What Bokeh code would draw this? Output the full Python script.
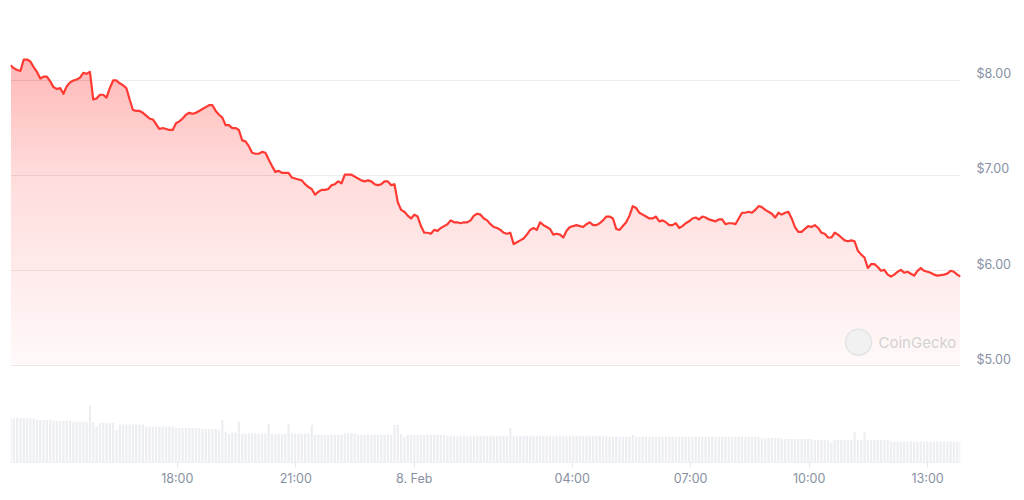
import numpy as np
import pandas as pd
from bokeh.plotting import figure
from bokeh.models import Range1d, FixedTicker, Label
from bokeh.embed import file_html
from bokeh.resources import INLINE

# ---------------- data ----------------
price = [
    8.16, 8.13, 8.11, 8.10, 8.22, 8.22, 8.20, 8.14, 8.09, 8.02,
    8.04, 8.04, 7.99, 7.93, 7.91, 7.92, 7.86, 7.94, 7.98, 8.00,
    8.01, 8.03, 8.08, 8.07, 8.09, 7.80, 7.81, 7.85, 7.85, 7.82,
    7.92, 8.00, 8.00, 7.97, 7.95, 7.92, 7.80, 7.69, 7.68, 7.68,
    7.66, 7.63, 7.60, 7.59, 7.54, 7.49, 7.50, 7.49, 7.48, 7.48,
    7.55, 7.57, 7.60, 7.64, 7.66, 7.65, 7.66, 7.68, 7.70, 7.72,
    7.74, 7.74, 7.68, 7.64, 7.61, 7.53, 7.53, 7.50, 7.50, 7.48,
    7.37, 7.36, 7.31, 7.24, 7.23, 7.23, 7.25, 7.24, 7.17, 7.10,
    7.04, 7.05, 7.03, 7.03, 7.03, 6.98, 6.97, 6.96, 6.95, 6.91,
    6.88, 6.86, 6.80, 6.83, 6.85, 6.85, 6.86, 6.90, 6.91, 6.94,
    6.92, 7.01, 7.01, 7.01, 6.99, 6.97, 6.95, 6.94, 6.95, 6.94,
    6.91, 6.90, 6.91, 6.94, 6.94, 6.90, 6.91, 6.72, 6.64, 6.62,
    6.58, 6.55, 6.59, 6.57, 6.47, 6.40, 6.40, 6.39, 6.43, 6.42,
    6.45, 6.47, 6.49, 6.53, 6.51, 6.51, 6.50, 6.51, 6.51, 6.53,
    6.58, 6.60, 6.59, 6.55, 6.53, 6.49, 6.46, 6.45, 6.43, 6.40,
    6.39, 6.40, 6.28, 6.30, 6.32, 6.34, 6.38, 6.43, 6.45, 6.43,
    6.51, 6.48, 6.46, 6.44, 6.38, 6.39, 6.38, 6.35, 6.42, 6.46,
    6.47, 6.48, 6.47, 6.46, 6.49, 6.51, 6.48, 6.48, 6.50, 6.53,
    6.57, 6.57, 6.55, 6.44, 6.43, 6.47, 6.51, 6.58, 6.68, 6.66,
    6.61, 6.59, 6.57, 6.55, 6.55, 6.57, 6.52, 6.53, 6.51, 6.48,
    6.48, 6.50, 6.45, 6.47, 6.50, 6.52, 6.55, 6.56, 6.54, 6.57,
    6.56, 6.54, 6.53, 6.52, 6.54, 6.54, 6.49, 6.50, 6.50, 6.49,
    6.55, 6.61, 6.61, 6.62, 6.61, 6.64, 6.68, 6.67, 6.64, 6.62,
    6.60, 6.56, 6.61, 6.59, 6.61, 6.62, 6.55, 6.46, 6.41, 6.41,
    6.44, 6.47, 6.46, 6.48, 6.45, 6.40, 6.39, 6.35, 6.35, 6.40,
    6.38, 6.35, 6.32, 6.31, 6.32, 6.31, 6.21, 6.17, 6.14, 6.03,
    6.07, 6.07, 6.04, 6.00, 6.01, 5.96, 5.94, 5.96, 5.99, 6.01,
    5.98, 5.99, 5.97, 5.95, 6.00, 6.03, 6.00, 5.99, 5.98, 5.96,
    5.95, 5.955, 5.96, 5.97, 6.00, 5.99, 5.96, 5.94,
]

volume = [
    44.4, 44.2, 44.5, 44.3, 44.4, 44.1, 44.3, 44.0,
    42.7, 42.7, 42.6, 42.7, 42.7,
    41.7, 41.7, 41.6, 41.7, 41.7, 41.7,
    40.7, 40.7, 40.7, 40.6, 40.7,
    56.7, 40.3, 35.7,
    39.4, 39.4, 39.4, 39.3, 39.4,
    32.5,
    38.0, 38.0, 38.1, 38.0, 38.0, 37.9, 38.0, 38.0,
    36.0, 36.0, 36.1, 36.0, 35.9, 36.0, 36.0, 36.0, 36.0,
    34.5, 34.5, 34.4, 34.5, 34.5, 34.5, 34.6, 34.5,
    33.5, 33.5, 33.5, 33.4, 33.5,
    32.5, 42.7, 31.0, 28.5, 30.0, 30.0, 40.7,
    29.0, 29.0, 29.0, 29.0, 28.9, 29.0, 29.0, 29.0,
    38.4,
    28.5, 28.5, 28.5, 28.5, 28.5,
    38.4,
    29.0, 29.0, 29.0, 29.0, 29.0, 29.0,
    37.4,
    27.7, 27.7, 27.7, 27.7, 27.7, 27.7, 27.7, 27.7, 27.7,
    29.0, 29.0, 29.0, 29.0,
    27.7, 27.7, 27.7, 27.7, 27.7, 27.7, 27.7, 27.7, 27.7, 27.7, 27.7,
    37.4, 37.4, 28.5, 25.7,
    27.7, 27.7, 27.7, 27.7, 27.7, 27.7, 27.7, 27.7, 27.7, 27.7, 27.7, 27.7,
    26.7, 26.7, 26.7, 26.7, 26.7, 26.7, 26.7, 26.7, 26.7, 26.7,
    26.7, 26.7, 26.7, 26.7, 26.7, 26.7, 26.7, 26.7, 26.7,
    34.4,
    26.7, 26.7, 26.7, 26.7, 26.7, 26.7, 26.7, 26.7, 26.7, 26.7,
    26.7, 26.7, 26.7, 26.7, 26.7, 26.7, 26.7, 26.7, 26.7, 26.7,
    26.7, 26.7, 26.7, 26.7, 26.7, 26.7, 26.7, 26.7, 26.7,
    25.7, 25.7, 25.7, 25.7, 25.7, 25.7, 25.7,
    27.7,
    25.7, 25.7, 25.7, 25.7, 25.7, 25.7, 25.7, 25.7, 25.7, 25.7,
    25.7, 25.7, 25.7, 25.7, 25.7, 25.7, 25.7, 25.7, 25.7, 25.7,
    25.7, 25.7, 25.7, 25.7, 25.7, 25.7, 25.7, 25.7, 25.7, 25.7,
    25.7, 25.7, 25.7, 25.7, 25.7, 25.7, 25.7, 25.7,
    24.4, 24.4, 24.4, 24.4, 24.4, 24.4,
    23.4, 23.4, 23.4, 23.4, 23.4, 23.4, 23.4, 23.4, 23.4, 23.4,
    22.4, 22.4, 22.4, 22.4, 22.0, 20.0,
    22.4, 22.4, 22.4, 22.4, 22.4, 22.4,
    30.0, 22.4, 22.4, 30.0,
    22.4, 22.4, 22.4, 22.4, 22.4, 22.4, 22.4,
    21.0, 21.0, 21.0, 21.0, 21.0, 21.0, 21.0, 21.0, 21.0, 21.0,
    21.0, 21.0, 21.0, 21.0, 21.0, 21.0, 21.0, 21.0, 21.0, 21.0, 21.0,
    20.0,
]

t_start = "2024-02-07 13:46:34"
t_end = "2024-02-08 13:50:00"

tick_times = ["2024-02-07 18:00", "2024-02-07 21:00", "2024-02-08 00:00",
              "2024-02-08 04:00", "2024-02-08 07:00", "2024-02-08 10:00",
              "2024-02-08 13:00"]
tick_labels = ["18:00", "21:00", "8. Feb", "04:00", "07:00", "10:00", "13:00"]

price_ticks = [5, 6, 7, 8]
price_tick_labels = ["$5.00", "$6.00", "$7.00", "$8.00"]

watermark = "CoinGecko"

# ---------------- styling ----------------
RED = "#ff3a33"
VOL = "#eceef2"
GRID = "#ededed"
LABEL = "#8690a3"
FONT = "Inter"

times = pd.date_range(pd.Timestamp(t_start), pd.Timestamp(t_end), periods=len(price))
price_arr = np.array(price)
step_ms = (times[1] - times[0]).total_seconds() * 1000.0

p = figure(width=1016, height=492, x_axis_type="datetime", y_axis_location="right",
           x_range=Range1d(pd.Timestamp(t_start).to_pydatetime(), pd.Timestamp(t_end).to_pydatetime()),
           y_range=Range1d(3.986, 8.525),
           output_backend="svg", toolbar_location=None,
           min_border_left=10, min_border_top=30, min_border_bottom=30, min_border_right=56)
p.outline_line_color = None
p.background_fill_color = "white"
p.border_fill_color = "white"

p.extra_y_ranges = {"vol": Range1d(0, max(volume) * 432.0 / 56.7)}

# gradient area fill built from nested translucent layers
levels = np.linspace(5.0, 8.3, 50)
a_bot, a_top = 0.03, 0.27
prev = 0.0
for L in levels:
    A = a_bot + (a_top - a_bot) * (L - 5.0) / (8.3 - 5.0)
    a = 1.0 - (1.0 - A) / (1.0 - prev)
    prev = A
    p.varea(x=times, y1=L, y2=np.maximum(price_arr, L), fill_color=RED, fill_alpha=a)

# volume bars
p.vbar(x=times, top=volume, bottom=0, width=step_ms * 0.68, y_range_name="vol",
       fill_color=VOL, line_color=None)

# price line
p.line(x=times, y=price, line_color=RED, line_width=2.2, line_join="round")

# watermark
x0 = pd.Timestamp(t_start).value / 1e6
x1 = pd.Timestamp(t_end).value / 1e6
p.scatter(x=[x0 + (848.0 / 950.0) * (x1 - x0)], y=[5.25], size=26, marker="circle",
          fill_color="#f1f1f1", line_color="#e4e4e4", line_width=1.5)
p.add_layout(Label(x=x0 + (868.0 / 950.0) * (x1 - x0), y=5.25, text=watermark,
                   text_font=FONT, text_font_size="15px", text_color="#d2d2d2",
                   text_baseline="middle", text_align="left"))

# grid
p.xgrid.visible = False
p.ygrid.ticker = FixedTicker(ticks=price_ticks)
p.ygrid.grid_line_color = GRID
p.ygrid.grid_line_width = 1

# right price axis (labels sit a little above their grid lines)
label_pos = [v + 0.07 for v in price_ticks]
p.yaxis.ticker = FixedTicker(ticks=label_pos)
p.yaxis.major_label_overrides = dict(zip(label_pos, price_tick_labels))
p.yaxis.axis_line_color = None
p.yaxis.major_tick_line_color = None
p.yaxis.major_tick_out = 0
p.yaxis.major_tick_in = 0
p.yaxis.minor_tick_line_color = None
p.yaxis.minor_tick_out = 0
p.yaxis.major_label_standoff = 16
p.yaxis.major_label_text_font = FONT
p.yaxis.major_label_text_font_size = "12.5px"
p.yaxis.major_label_text_color = LABEL

# time axis
tick_ms = [int(pd.Timestamp(t).value // 10**6) for t in tick_times]
p.xaxis.ticker = FixedTicker(ticks=tick_ms)
p.xaxis.major_label_overrides = dict(zip(tick_ms, tick_labels))
p.xaxis.axis_line_color = "#eef0f3"
p.xaxis.major_tick_line_color = "#e4e7ec"
p.xaxis.major_tick_out = 5
p.xaxis.major_tick_in = 0
p.xaxis.minor_tick_line_color = None
p.xaxis.major_label_standoff = 3
p.xaxis.major_label_text_font = FONT
p.xaxis.major_label_text_font_size = "12.5px"
p.xaxis.major_label_text_color = LABEL

open("out.html", "w").write(file_html(p, INLINE))
